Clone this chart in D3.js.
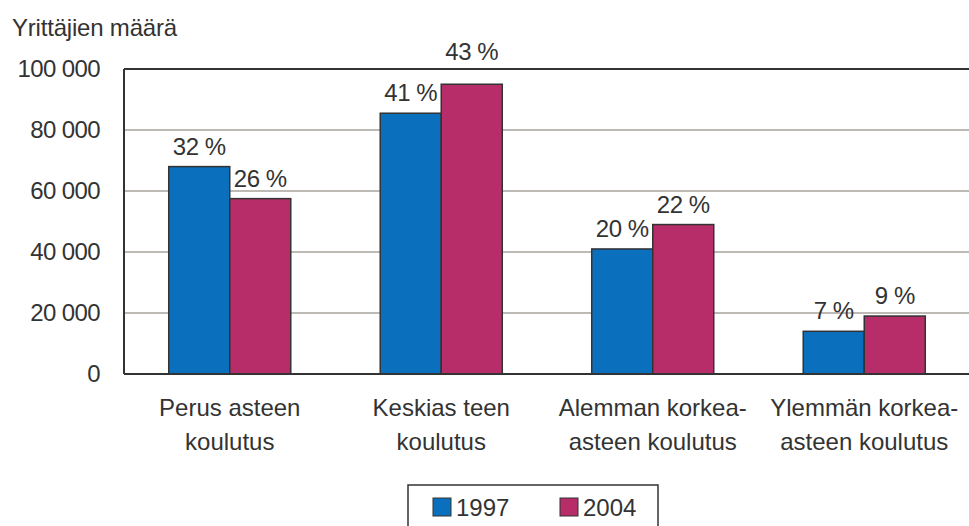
<!DOCTYPE html>
<html>
<head>
<meta charset="utf-8">
<script src="https://cdn.jsdelivr.net/npm/d3@7"></script>
<style>
body{margin:0;background:#fff;}
svg text{font-family:"Liberation Sans",Arial,sans-serif;fill:#333;}
</style>
</head>
<body>
<svg id="chart" width="969" height="526"></svg>
<script>
// data
var categories=[["Perus asteen","koulutus"],["Keskias teen","koulutus"],["Alemman korkea-","asteen koulutus"],["Ylemmän korkea-","asteen koulutus"]];
var years=["1997","2004"];
var values1997=[68000,85500,41000,14000];
var values2004=[57500,95000,49000,19000];
var shares1997=["32 %","41 %","20 %","7 %"];
var shares2004=["26 %","43 %","22 %","9 %"];
var yTicks=[0,20000,40000,60000,80000,100000];
var colors=["#0a70bd","#b72d69"];

var margin={left:124,right:-1,top:69,bottom:152};
var width=969,height=526;
var fs=24;

var svg=d3.select("#chart");

var xScale=d3.scaleBand()
  .domain(d3.range(categories.length))
  .range([margin.left,width-margin.right])
  .paddingInner(0.423)
  .paddingOuter(0.2115);
var x1=d3.scaleBand().domain(years).range([0,xScale.bandwidth()]);
var yScale=d3.scaleLinear().domain([0,100000]).range([height-margin.bottom,margin.top]);

var fmt=function(v){return v==0?"0":d3.format(",")(v).replace(/,/g," ");};

// grid lines
svg.append("g").selectAll("line")
  .data(yTicks.filter(function(t){return t>0&&t<100000;}))
  .enter().append("line")
  .attr("x1",margin.left).attr("x2",width)
  .attr("y1",function(d){return yScale(d);}).attr("y2",function(d){return yScale(d);})
  .attr("stroke","#bdbab6").attr("stroke-width",2);

// y axis labels
var yAxis=d3.axisLeft(yScale).tickValues(yTicks).tickFormat(fmt).tickSize(0).tickPadding(24);
var ya=svg.append("g").attr("transform","translate("+margin.left+",0)").call(yAxis);
ya.select(".domain").remove();
ya.selectAll("text").attr("font-size",fs).attr("fill","#333").style("font-family","Liberation Sans, Arial, sans-serif").attr("letter-spacing",-0.6);

var rows=categories.map(function(c,i){return {i:i,vals:[values1997[i],values2004[i]],labs:[shares1997[i],shares2004[i]]};});

var g=svg.selectAll(".grp").data(rows).enter().append("g")
  .attr("class","grp")
  .attr("transform",function(d){return "translate("+xScale(d.i)+",0)";});

g.selectAll("rect").data(function(d){return d.vals.map(function(v,k){return {k:k,v:v};});})
  .enter().append("rect")
  .attr("x",function(d){return x1(years[d.k]);})
  .attr("width",x1.bandwidth())
  .attr("y",function(d){return yScale(d.v);})
  .attr("height",function(d){return yScale(0)-yScale(d.v);})
  .attr("fill",function(d){return colors[d.k];})
  .attr("stroke","#333").attr("stroke-width",1.5);

// percentage labels, moved above the frame when they would hit its top line
var topY=yScale(100000);
g.selectAll(".pct").data(function(d){return d.vals.map(function(v,k){return {k:k,v:v,t:d.labs[k]};});})
  .enter().append("text")
  .attr("class","pct")
  .attr("x",function(d){return x1(years[d.k])+x1.bandwidth()/2;})
  .attr("y",function(d){
    var y=yScale(d.v)-12;
    return (y-20<topY)?topY-9:y;
  })
  .attr("text-anchor","middle")
  .attr("font-size",fs).attr("letter-spacing",-0.4)
  .text(function(d){return d.t;});

// plot frame: top, left, bottom
var frame=svg.append("g").attr("stroke","#333").attr("stroke-width",2);
frame.append("line").attr("x1",margin.left).attr("x2",width).attr("y1",topY).attr("y2",topY);
frame.append("line").attr("x1",margin.left).attr("x2",width).attr("y1",yScale(0)).attr("y2",yScale(0));
frame.append("line").attr("x1",margin.left).attr("x2",margin.left).attr("y1",topY).attr("y2",yScale(0));

// category labels
svg.selectAll(".cat").data(rows).enter().append("text")
  .attr("class","cat")
  .attr("text-anchor","middle")
  .attr("font-size",fs)
  .attr("x",function(d){return xScale(d.i)+xScale.bandwidth()/2;})
  .attr("y",yScale(0)+42)
  .each(function(d){
    var t=d3.select(this);
    categories[d.i].forEach(function(line,j){
      t.append("tspan").attr("x",xScale(d.i)+xScale.bandwidth()/2).attr("dy",j==0?0:34).text(line);
    });
  });

// axis title
svg.append("text").attr("x",12).attr("y",36).attr("font-size",fs).attr("letter-spacing",-0.2).text("Yrittäjien määrä");

// legend
var leg=svg.append("g").attr("transform","translate(408,485)");
leg.append("rect").attr("x",0).attr("y",0).attr("width",250).attr("height",60)
  .attr("fill","none").attr("stroke","#333").attr("stroke-width",1.5);
var li=leg.selectAll(".li").data(years).enter().append("g")
  .attr("transform",function(d,i){return "translate("+(25+i*127)+",13)";});
li.append("rect").attr("width",18).attr("height",18)
  .attr("fill",function(d,i){return colors[i];}).attr("stroke","#333").attr("stroke-width",1);
li.append("text").attr("x",23).attr("y",18).attr("font-size",fs).text(function(d){return d;});
</script>
</body>
</html>
